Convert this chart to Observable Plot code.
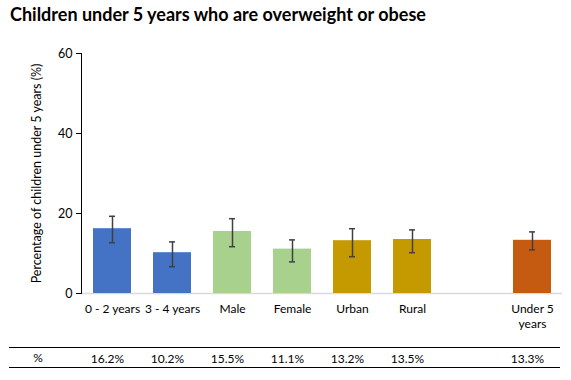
<!DOCTYPE html>
<html><head><meta charset="utf-8">
<script src="https://cdn.jsdelivr.net/npm/d3@7"></script>
<script src="https://cdn.jsdelivr.net/npm/@observablehq/plot@0.6"></script>
<style>
body{margin:0;background:#fff}
#wrap{position:relative;width:571px;height:380px;font-family:Lato,"Noto Sans",sans-serif}
#title{position:absolute;left:10px;top:3px;font-weight:bold;font-size:18px;color:#000;white-space:nowrap;z-index:1}
#wrap svg{position:absolute;left:0;top:0}
</style></head>
<body><div id="wrap"><div id="title">Children under 5 years who are overweight or obese</div></div>
<script>
const categories = ["0 - 2 years","3 - 4 years","Male","Female","Urban","Rural","Under 5 years"];
const labels = ["0 - 2 years","3 - 4 years","Male","Female","Urban","Rural","Under 5\nyears"];
const values = [16.2,10.2,15.5,11.1,13.2,13.5,13.3];
const lower = [12.7,6.7,11.7,7.9,9.2,10.2,10.9];
const upper = [19.3,12.9,18.7,13.4,16.2,15.9,15.4];
const groups = ["Age","Age","Sex","Sex","Residence","Residence","Total"];
const groupNames = ["Age","Sex","Residence","Total"];
const groupColors = ["#4472c4","#a9d18e","#c49a00","#c55a11"];
const yTicks = [0,20,40,60];
const yLabel = "Percentage of children under 5 years (%)";
const tableRowLabel = "%";

const data = categories.map((c,i)=>({category:c,label:labels[i],value:values[i],lo:lower[i],hi:upper[i],group:groups[i]}));
const domain = [...categories.slice(0,6), " ", categories[6]];

const chart = Plot.plot({
  width:571, height:380,
  marginTop:53, marginBottom:87, marginLeft:81, marginRight:9,
  style:{fontFamily:"Lato, 'Noto Sans', sans-serif", fontSize:"12px", color:"#000", background:"transparent"},
  x:{domain, paddingInner:0.37, paddingOuter:0.185, axis:null},
  y:{domain:[0,60]},
  color:{domain:groupNames, range:groupColors},
  marks:[
    Plot.ruleY([0],{stroke:"#d9d9d9", strokeWidth:1.5}),
    Plot.barY(data,{x:"category", y:"value", fill:"group"}),
    Plot.ruleX(data,{x:"category", y1:"lo", y2:"hi", stroke:"#404040", strokeWidth:1.5}),
    Plot.tickY(data,{x:"category", y:"lo", insetLeft:16, insetRight:16, stroke:"#404040", strokeWidth:1.5}),
    Plot.tickY(data,{x:"category", y:"hi", insetLeft:16, insetRight:16, stroke:"#404040", strokeWidth:1.5}),
    Plot.axisY({ticks:yTicks, tickSize:5, tickPadding:4, fontSize:12.5, label:yLabel, labelAnchor:"center", labelArrow:"none", labelOffset:49}),
    Plot.frame({anchor:"left", stroke:"#000"}),
    Plot.text(data,{x:"category", text:"label", frameAnchor:"bottom", lineAnchor:"top", dy:8, lineHeight:1.3, fontSize:12}),
    Plot.text(data,{x:"category", text:d=>d3.format(".1f")(d.value)+"%", frameAnchor:"bottom", lineAnchor:"middle", dy:66, dx:-5, fontSize:12})
  ]
});
document.getElementById("wrap").appendChild(chart);

// table rules and row label
const svg = d3.select(chart);
[347.5, 367.5].forEach(y=>{
  svg.append("line").attr("x1",9).attr("x2",560).attr("y1",y).attr("y2",y).attr("stroke","#000").attr("stroke-width",1);
});
svg.append("text").attr("x",38).attr("y",359).attr("text-anchor","middle").attr("dominant-baseline","middle")
  .attr("font-size",12).attr("fill","#000").text(tableRowLabel);
</script>
</body></html>
